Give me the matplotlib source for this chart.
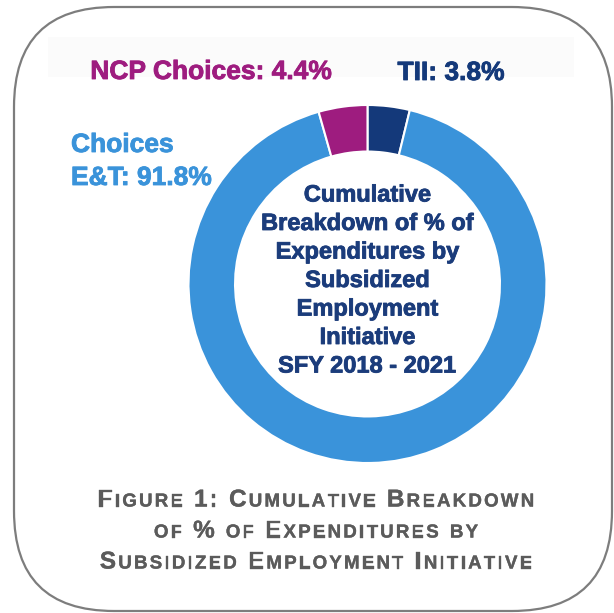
import matplotlib
matplotlib.use("Agg")
import matplotlib.pyplot as plt
from matplotlib import font_manager
from matplotlib import patheffects
from matplotlib.patches import FancyBboxPatch, Rectangle

# expenditure shares by initiative, SFY 2018 - 2021
programs = ["TII", "Choices E&T", "NCP Choices"]
shares = [3.8, 91.8, 4.4]
colors = ["#14397a", "#3a93da", "#9e1c7f"]

center_lines = ["Cumulative", "Breakdown of % of", "Expenditures by", "Subsidized",
                "Employment", "Initiative", "SFY 2018 - 2021"]
caption_lines = ["Figure 1: Cumulative Breakdown", "of % of Expenditures by",
                 "Subsidized Employment Initiative"]

W, H = 614, 613
NAVY = "#1b3c7b"
GRAY = "#5b5b5b"


def bold_font():
    # first Arial-like family that really has a bold face
    bold = {f.name for f in font_manager.fontManager.ttflist
            if f.weight in ("bold", 700, "heavy") or (isinstance(f.weight, int) and f.weight >= 700)}
    for name in ["Liberation Sans", "Arimo", "Roboto", "Noto Sans", "DejaVu Sans"]:
        if name in bold:
            return name
    return "DejaVu Sans"


FONT = bold_font()


def heavy(color, w=0.6):
    # thicken the bold glyphs a little
    return [patheffects.Stroke(linewidth=w, foreground=color), patheffects.Normal()]


fig = plt.figure(figsize=(W / 100, H / 100), dpi=100)

# background axes in pixel units (y down)
bg = fig.add_axes([0, 0, 1, 1])
bg.set_xlim(0, W)
bg.set_ylim(H, 0)
bg.axis("off")

bg.add_patch(FancyBboxPatch((14, 7), 598, 604, boxstyle="round,pad=0,rounding_size=100",
                            fill=False, edgecolor="#7d7d7d", linewidth=1.6))
bg.add_patch(Rectangle((48, 37), 526, 40, facecolor="#fbfbfb", edgecolor="none"))

# donut
cx, cy, R = 367.5, 284, 179
pie_ax = fig.add_axes([(cx - R) / W, (H - cy - R) / H, 2 * R / W, 2 * R / H])
pie_ax.pie(shares, colors=colors, startangle=90, counterclock=False,
           wedgeprops=dict(width=0.26, edgecolor="white", linewidth=1.5))
pie_ax.set_xlim(-1, 1)
pie_ax.set_ylim(-1, 1)
pie_ax.axis("off")

# segment labels
lab = dict(fontfamily=FONT, fontweight="bold", fontsize=19, va="baseline")
bg.text(211, 79, f"{programs[2]}: {shares[2]}%", color=colors[2], ha="center",
        path_effects=heavy(colors[2]), **lab)
bg.text(451, 80, f"{programs[0]}: {shares[0]}%", color=colors[0], ha="center",
        path_effects=heavy(colors[0]), **lab)
bg.text(71, 152, "Choices", color=colors[1], ha="left", path_effects=heavy(colors[1]), **lab)
bg.text(71, 185, f"E&T: {shares[1]}%", color=colors[1], ha="left",
        path_effects=heavy(colors[1]), **lab)

# title inside the ring
for i, line in enumerate(center_lines):
    bg.text(cx, 201.5 + i * 28.5, line, color=NAVY, fontfamily=FONT, fontweight="bold",
            fontsize=17, ha="center", va="baseline", path_effects=heavy(NAVY))

# caption in small caps with loose tracking: capitals big, the rest smaller
renderer = fig.canvas.get_renderer()
big, small = 17.5, 13.5
track = 2.2
cap_x = 316
for i, line in enumerate(caption_lines):
    y = 506.5 + i * 31
    texts, widths = [], []
    for ch in line:
        size = small if ch.islower() else big
        t = bg.text(0, y, ch.upper(), fontsize=size, fontfamily=FONT, fontweight="bold",
                    color=GRAY, ha="left", va="baseline", path_effects=heavy(GRAY, 0.25))
        texts.append(t)
        widths.append(t.get_window_extent(renderer).width if ch != " " else size * 0.278 * 100 / 72)
    total = sum(widths) + track * (len(widths) - 1)
    x = cap_x - total / 2
    for t, w in zip(texts, widths):
        t.set_x(x)
        x += w + track

fig.savefig("out.png", dpi=100)
